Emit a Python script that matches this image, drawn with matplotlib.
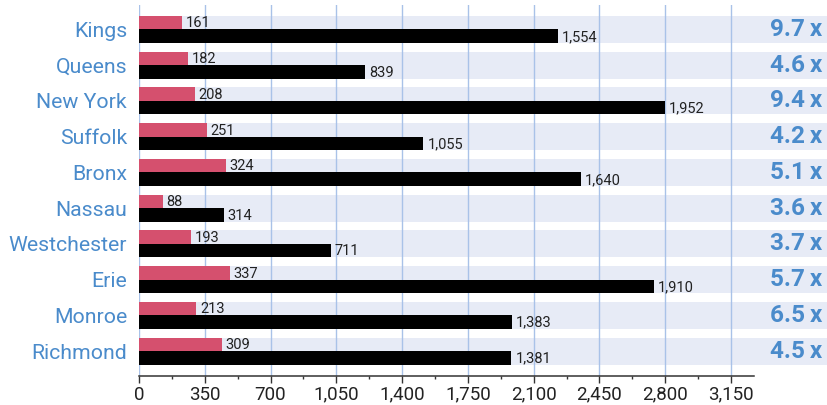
import numpy as np
import matplotlib.pyplot as plt
from matplotlib.ticker import FixedLocator

# data
counties = ["Kings", "Queens", "New York", "Suffolk", "Bronx",
            "Nassau", "Westchester", "Erie", "Monroe", "Richmond"]
red_values = [161, 182, 208, 251, 324, 88, 193, 337, 213, 309]
black_values = [1554, 839, 1952, 1055, 1640, 314, 711, 1910, 1383, 1381]
ratio_labels = ["9.7x", "4.6x", "9.4x", "4.2x", "5.1x",
                "3.6x", "3.7x", "5.7x", "6.5x", "4.5x"]
tick_values = [0, 350, 700, 1050, 1400, 1750, 2100, 2450, 2800, 3150]

# the axis scale of the original is stretched relative to the bars
axis_scale = 1.434

red = "#d5506e"
band = "#e7ebf6"
grid_col = "#a9c2e8"
blue = "#4a8bcb"
font = ["Roboto", "DejaVu Sans"]

fig = plt.figure(figsize=(8.27, 4.05), dpi=100)
ax = fig.add_axes([139 / 827, 0.0723, 688 / 827, 0.9154])

rows = np.arange(len(counties))
bh = 0.378

for r in rows:
    ax.axhspan(r - bh, r + bh, color=band, zorder=0.2, lw=0)

ax.barh(rows - bh / 2, red_values, height=bh, color=red, zorder=2, lw=0)
ax.barh(rows + bh / 2, black_values, height=bh, color="black", zorder=2, lw=0)

for r, v in zip(rows, red_values):
    ax.annotate(f"{v:,}", (v, r - bh / 2), xytext=(2.5, -0.5), textcoords="offset points",
                ha="left", va="center", fontsize=10.5, family=font,
                color="#222222", zorder=3)
for r, v in zip(rows, black_values):
    ax.annotate(f"{v:,}", (v, r + bh / 2), xytext=(3, -0.5), textcoords="offset points",
                ha="left", va="center", fontsize=10.5, family=font,
                color="#222222", zorder=3)

for r, lab in zip(rows, ratio_labels):
    ax.text(0.9927, r, lab.replace("x", "\u2009x"), transform=ax.get_yaxis_transform(),
            ha="right", va="center", fontsize=17.5, fontweight="bold",
            family=font, color=blue)

xmax = 688 / 0.2695
ax.set_xlim(0, xmax)
ax.set_ylim(9.69, -0.686)

ax.xaxis.set_major_locator(FixedLocator(np.array(tick_values) / axis_scale))
ax.set_xticklabels([f"{t:,}" for t in tick_values], family=font, fontsize=13.5, color="#222222")
minor = np.arange(175, 3150, 350)
ax.xaxis.set_minor_locator(FixedLocator(minor / axis_scale))
ax.tick_params(axis="x", which="major", length=4.8, width=1, color="#333333", pad=2.5)
ax.tick_params(axis="x", which="minor", length=2.4, width=1, color="#333333")

ax.set_yticks(rows)
ax.set_yticklabels(counties, family=font, fontsize=15.3, color=blue)
ax.tick_params(axis="y", length=0, pad=8.6)

ax.set_axisbelow(True)
ax.grid(axis="x", which="major", color=grid_col, lw=1, zorder=0.5)

for s in ["top", "right", "left"]:
    ax.spines[s].set_visible(False)
ax.spines["bottom"].set_bounds(0, 3270 / axis_scale)
ax.spines["bottom"].set_color("#333333")
ax.spines["bottom"].set_linewidth(1.1)
ax.patch.set_alpha(0)

fig.savefig("out.png", dpi=100)
